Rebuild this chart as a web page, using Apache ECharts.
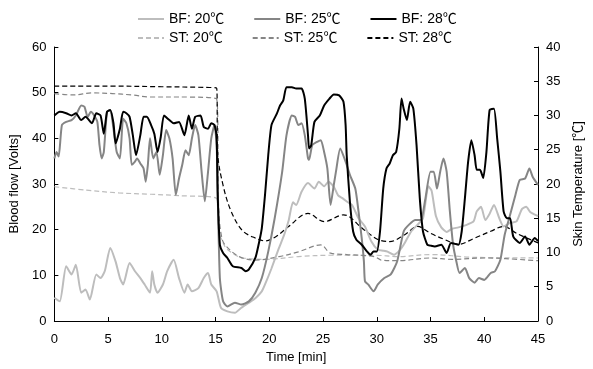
<!DOCTYPE html>
<html>
<head>
<meta charset="utf-8">
<script src="https://cdn.jsdelivr.net/npm/echarts@6/dist/echarts.min.js"></script>
<style>
  html, body { margin: 0; padding: 0; background: #fff; }
  #chart { width: 593px; height: 369px; }
</style>
</head>
<body>
<div id="chart"></div>
<script>
// time [min] / value pairs
var bf20 = [[0,5.1],[0.5,4.3],[1.1,12],[1.6,10.2],[2,12.3],[2.5,6.2],[2.9,6.9],[3.3,4.7],[3.9,10.2],[4.3,9.4],[4.7,11],[5.2,16],[5.7,13],[6.1,9.4],[6.4,8],[7,12.7],[7.5,10.9],[8,9.4],[8.4,8],[8.9,6.2],[9.1,10.9],[9.3,8],[9.6,6.2],[10.1,8],[10.5,10.9],[11.1,13.4],[11.6,9.4],[12.1,6.2],[12.4,8],[12.8,6.5],[13.4,7.2],[13.9,9.4],[14.3,10.5],[14.6,8],[15.1,6.5],[15.5,2.9],[16.1,2.1],[16.8,1.8],[17.4,2.9],[18.1,4],[18.7,5],[19.3,6.5],[19.6,8],[20.2,11.5],[20.9,16],[21.4,19],[21.8,22],[22.2,26],[22.5,25.4],[23,28.3],[23.6,30.2],[24.2,29],[24.6,30.5],[25.1,29.5],[25.5,30.5],[26,29.4],[26.4,27.5],[26.8,26.9],[27.3,26],[27.7,25.4],[28.3,22.5],[28.9,20.7],[29.5,17.4],[30.1,15.6],[30.6,15.4],[31,15.2],[31.6,14.5],[32.1,15.4],[32.5,16.7],[33.2,19.6],[33.8,21.1],[34.3,22.5],[34.8,29.5],[35.1,28.5],[35.5,23],[36,20.5],[36.5,19.5],[37,20.2],[37.6,20.5],[38.3,21],[39,21.8],[39.3,24],[39.7,25],[40.1,22.1],[40.5,23.5],[40.9,25.4],[41.4,22.5],[41.8,20.7],[42.4,21.5],[43,21.8],[43.5,24.5],[43.9,25],[44.3,23.8],[44.8,23.2],[45,23]];

var bf25 = [[0,35.6],[0.2,37],[0.4,36],[0.7,42.9],[1.1,43.6],[1.6,44],[2,45],[2.5,47.2],[2.8,46.9],[3.1,44.7],[3.4,45.8],[3.7,45],[4,43.6],[4.2,38.5],[4.4,35.6],[4.6,37],[4.9,45.8],[5.2,46.2],[5.5,42.1],[5.8,37],[6.1,35.6],[6.4,44.3],[6.7,43.3],[7,40],[7.2,34.2],[7.5,34.9],[7.7,35.6],[8,34.5],[8.3,33.4],[8.5,30.5],[8.7,34.2],[8.9,40],[9.2,35.6],[9.5,37],[9.8,32],[10.1,36.3],[10.4,41.8],[10.7,40],[11,35.6],[11.3,27.6],[11.6,31.2],[11.9,34.2],[12.2,37.4],[12.5,36.3],[12.8,40],[13.1,42.9],[13.4,40.7],[13.7,32.7],[14,26.2],[14.3,32.7],[14.6,40],[14.9,42.9],[15.1,38.5],[15.2,27.6],[15.4,9.4],[15.7,4.3],[16.1,3.2],[16.8,4],[17.4,3.6],[18.1,4.3],[18.7,6.2],[19.3,9.4],[19.9,15.2],[20.5,22.5],[21.2,32.7],[21.6,40.7],[22.1,45],[22.4,44.7],[22.7,42.9],[23,43.3],[23.3,40.7],[23.6,35.6],[23.7,35.3],[24,38.5],[24.5,39.3],[24.8,39.6],[25.1,37],[25.4,33.4],[25.7,25.4],[26,29.8],[26.2,32.7],[26.6,37.8],[27.1,34.9],[27.5,32],[28,29],[28.3,24],[28.6,18.1],[28.8,13.1],[28.9,8.7],[29.2,8],[29.7,6.5],[30.1,8],[30.7,9.4],[31.3,10.2],[31.9,13.1],[32.5,19.6],[33,21.1],[33.6,22.1],[34.1,22.1],[34.5,26.5],[35,32.7],[35.3,32.7],[35.6,29],[35.9,32.7],[36.2,35.6],[36.5,32.7],[36.8,24],[37.1,16.7],[37.4,13.1],[37.7,10.5],[38.2,11.6],[38.6,9.4],[39.1,8.4],[39.5,9.4],[40,9],[40.6,10.5],[41,10.9],[41.5,13.4],[41.9,18.9],[42.4,23.2],[42.9,27.6],[43.3,30.9],[43.8,31.2],[44.2,33.4],[44.5,31.6],[45,29.8]];

var bf28 = [[0,45],[0.5,45.8],[1.1,45.5],[1.6,45],[2,45.5],[2.5,44],[2.9,44.7],[3.5,43.3],[3.9,45.5],[4.3,45],[4.6,41],[4.9,45.8],[5.2,46.2],[5.5,43.3],[5.7,38.9],[6.1,42.1],[6.4,45.8],[6.7,45.5],[7,44.7],[7.3,40.7],[7.6,36.3],[8,40.7],[8.3,44.7],[8.6,44.7],[9,42.9],[9.3,41],[9.6,37],[9.9,40.3],[10.2,45],[10.7,44],[11.1,43.3],[11.6,43.6],[12.1,40.7],[12.5,45],[12.8,42.1],[13.1,44.7],[13.6,45],[13.9,42.5],[14.3,42.1],[14.6,43.3],[14.9,42.9],[15.1,40],[15.2,27.6],[15.4,16.7],[15.7,14.9],[16.1,13.8],[16.6,12],[17.4,11.6],[17.8,10.9],[18.1,11.3],[18.7,13.8],[19,16.7],[19.3,20.3],[19.6,27.6],[19.9,36.3],[20.2,42.9],[20.7,45.4],[21,47.2],[21.3,48.3],[21.6,51.2],[22.1,51.2],[22.5,50.9],[23,50.9],[23.3,48.7],[23.6,40.7],[23.7,37.8],[23.9,38.5],[24.2,43.6],[24.7,45],[25.1,47.2],[25.6,48.7],[26,49.6],[26.5,49.4],[26.9,48],[27.1,42.9],[27.2,36.3],[27.5,26.1],[27.8,19.6],[28.1,17.8],[28.6,16.7],[29.1,15.2],[29.4,14.5],[29.7,15.2],[30,15.2],[30.3,19.6],[30.6,29],[30.9,33.4],[31.2,34.5],[31.5,36.3],[31.8,37],[32.1,42.1],[32.3,48.7],[32.5,46.5],[32.8,44],[33.1,48],[33.4,46.5],[33.7,38.5],[34,26.9],[34.3,19.6],[34.7,16.7],[35,16.5],[35.4,16.3],[36,16.7],[36.5,14.9],[36.9,17.1],[37.6,16.7],[37.9,19.6],[38.2,26.9],[38.5,34.9],[38.8,39.6],[39.1,36.3],[39.3,33.1],[39.6,33.1],[39.9,31.3],[40.2,37],[40.5,46.2],[40.9,46.5],[41.2,40],[41.5,32.7],[41.8,24],[42.1,22.5],[42.4,22.5],[42.7,18.5],[43.3,17.1],[43.8,18.5],[44.2,16.7],[44.7,18.2],[45,17.5]];

// skin temperature, right axis [℃]
var st20 = [[0,19.6],[3,19.1],[6,18.7],[9,18.5],[11.6,18.3],[15.1,17.9],[15.3,13],[15.6,11.8],[16,10.6],[17,9.5],[17.5,9.2],[19.6,9.0],[22.7,9.4],[25.7,9.6],[29.8,9.6],[32,9.4],[35,9.7],[39,9.3],[45,9.2]];
var st25 = [[0,33.2],[1.7,33],[3.6,33.3],[5.4,33.2],[7.2,33],[9,32.7],[11.6,32.7],[15.1,32.4],[15.3,16],[15.6,12],[16,10.9],[17.2,9.4],[18.7,8.9],[20.9,9.4],[22.7,10.1],[24.8,11.1],[25.7,9.9],[27.2,9.7],[29.8,9.4],[30.4,8.9],[32,8.8],[35,9.2],[37,9.0],[40,9.2],[42,9.1],[45,8.8]];
var st28 = [[0,34.3],[5,34.3],[10,34.2],[14,34.1],[15.1,34],[15.2,24.5],[15.7,19.8],[16.45,16],[17.5,13.2],[18.7,12.1],[19.6,11.7],[20.6,12.3],[21.8,13.8],[23.6,15.7],[25.1,14.5],[26.9,15.5],[28.75,13.4],[30.1,11.9],[31.2,11.6],[32.6,12.6],[33.8,13.8],[35,12.8],[36.3,11.9],[37.6,11.2],[39.1,12.1],[40.6,13.1],[41.8,13.8],[43,12.8],[45,11.4]];

var xTicks = [0, 45, 5];
var bfTicks = [0, 60, 10];
var stTicks = [0, 40, 5];

var font = '"Liberation Sans", "Noto Sans CJK JP", sans-serif';

function bfSeries(name, data, color) {
  return {
    name: name, type: 'line', data: data, yAxisIndex: 0,
    showSymbol: false, symbol: 'none', smooth: 0.2,
    lineStyle: { color: color, width: 2 }, itemStyle: { color: color },
    z: 3
  };
}
function stSeries(name, data, color) {
  return {
    name: name, type: 'line', data: data, yAxisIndex: 1,
    showSymbol: false, symbol: 'none', smooth: 0.35,
    lineStyle: { color: color, width: 1.2, type: [5, 3] }, itemStyle: { color: color },
    z: 2
  };
}

var axisCommon = {
  axisLine: { show: true, lineStyle: { color: '#000', width: 1 } },
  axisTick: { show: true, inside: true, length: 4, lineStyle: { color: '#000' } },
  splitLine: { show: false },
  axisLabel: { color: '#000', fontSize: 13, fontFamily: font },
  nameTextStyle: { color: '#000', fontSize: 13, fontFamily: font }
};

// legend rows: line sample only, no marker dot
var legendCommon = {
  left: 132, itemWidth: 26, itemHeight: 14, itemGap: 29,
  itemStyle: { opacity: 0 },
  textStyle: { color: '#000', fontSize: 14, fontFamily: font }
};

var chart = echarts.init(document.getElementById('chart'), null, { renderer: 'canvas' });
chart.setOption({
  animation: false,
  backgroundColor: '#fff',
  textStyle: { fontFamily: font },
  legend: [
    Object.assign({}, legendCommon, { data: ['BF: 20℃', 'BF: 25℃', 'BF: 28℃'], top: 7 }),
    Object.assign({}, legendCommon, { data: ['ST: 20℃', 'ST: 25℃', 'ST: 28℃'], top: 26 })
  ],
  grid: { left: 51, right: 48, top: 47, bottom: 47 },
  xAxis: Object.assign({}, axisCommon, {
    type: 'value', min: xTicks[0], max: xTicks[1], interval: xTicks[2],
    name: 'Time [min]', nameLocation: 'middle', nameGap: 30,
    axisLabel: Object.assign({}, axisCommon.axisLabel, { margin: 12 })
  }),
  yAxis: [Object.assign({}, axisCommon, {
    type: 'value', min: bfTicks[0], max: bfTicks[1], interval: bfTicks[2],
    name: 'Blood flow [Volts]', nameLocation: 'middle', nameGap: 24,
    axisLabel: Object.assign({}, axisCommon.axisLabel, { margin: 8 })
  }), Object.assign({}, axisCommon, {
    type: 'value', min: stTicks[0], max: stTicks[1], interval: stTicks[2],
    position: 'right',
    name: 'Skin Temperature [℃]', nameLocation: 'middle', nameGap: 34, nameRotate: 90,
    axisLabel: Object.assign({}, axisCommon.axisLabel, { margin: 8 })
  })],
  series: [
    bfSeries('BF: 20℃', bf20, '#bdbdbd'),
    bfSeries('BF: 25℃', bf25, '#858585'),
    bfSeries('BF: 28℃', bf28, '#000'),
    stSeries('ST: 20℃', st20, '#bdbdbd'),
    stSeries('ST: 25℃', st25, '#858585'),
    stSeries('ST: 28℃', st28, '#000')
  ]
});
</script>
</body>
</html>
